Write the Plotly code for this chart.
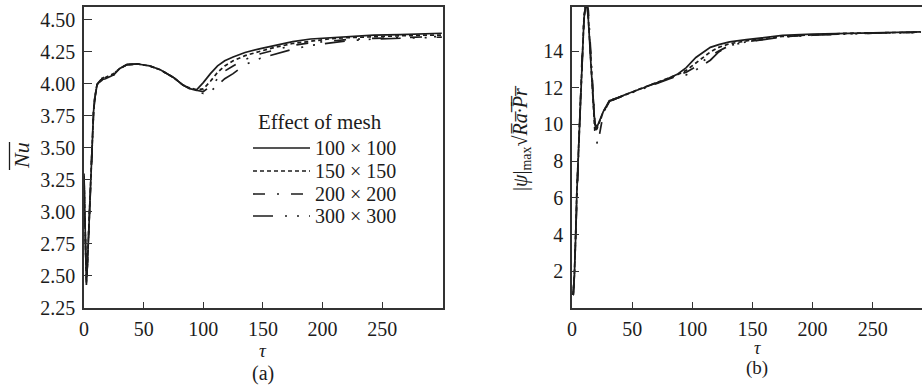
import plotly.graph_objects as go

W, H = 922, 386
FONT = "Liberation Serif"
INK = "#1c1c1c"
AXC = "#333333"

# ---------------- data ----------------
mesh_labels = ["100 × 100", "150 × 150", "200 × 200", "300 × 300"]

# panel (a): mean Nusselt number vs tau
tau_a = [0, 1, 2, 3, 4, 5, 6, 7, 8, 9, 11, 14, 18, 25, 30, 36, 45, 55, 64, 75, 83,
         88, 94, 100, 106, 112, 118, 125, 135, 148, 160, 175, 190, 205, 220, 243, 265, 285, 300]
nu_100 = [3.30, 2.85, 2.43, 2.62, 2.86, 3.12, 3.38, 3.60, 3.78, 3.88, 4.00, 4.03, 4.04, 4.07, 4.12, 4.15,
          4.155, 4.14, 4.11, 4.05, 3.99, 3.965, 3.95, 4.01, 4.08, 4.14, 4.18, 4.21, 4.245, 4.275, 4.30,
          4.33, 4.35, 4.36, 4.37, 4.38, 4.385, 4.39, 4.395]
nu_150 = [3.28, 2.86, 2.45, 2.63, 2.87, 3.13, 3.39, 3.61, 3.79, 3.89, 4.00, 4.02, 4.05, 4.08, 4.12, 4.15,
          4.155, 4.14, 4.11, 4.05, 3.99, 3.97, 3.955, 3.96, 4.02, 4.09, 4.14, 4.18, 4.22, 4.255, 4.285,
          4.315, 4.335, 4.35, 4.36, 4.37, 4.375, 4.38, 4.38]
nu_200 = [3.27, 2.84, 2.44, 2.61, 2.85, 3.11, 3.37, 3.59, 3.77, 3.87, 3.99, 4.03, 4.06, 4.08, 4.12, 4.15,
          4.155, 4.14, 4.11, 4.05, 3.99, 3.97, 3.95, 3.94, 3.98, 4.04, 4.10, 4.14, 4.19, 4.235, 4.265,
          4.30, 4.32, 4.335, 4.345, 4.355, 4.362, 4.368, 4.37]
nu_300 = [3.26, 2.85, 2.44, 2.62, 2.86, 3.12, 3.38, 3.60, 3.78, 3.88, 4.00, 4.04, 4.05, 4.07, 4.12, 4.15,
          4.155, 4.14, 4.11, 4.05, 3.99, 3.965, 3.94, 3.925, 3.94, 3.99, 4.04, 4.08, 4.15, 4.20, 4.23,
          4.27, 4.30, 4.32, 4.335, 4.35, 4.358, 4.363, 4.365]

# panel (b): max stream function vs tau
tau_b = [1, 2, 3, 4, 6, 8, 10, 12, 13.6, 16, 19, 21, 23, 26, 31, 38, 45, 55, 65, 78, 88,
         95, 103, 109, 115, 122, 131, 145, 160, 175, 200, 225, 250, 270, 290]
psi_100 = [0.7, 1.8, 3.8, 6.2, 9.5, 13.2, 15.8, 16.8, 15.7, 13.0, 10.0, 9.9, 10.2, 10.7, 11.3, 11.45,
           11.65, 11.9, 12.15, 12.45, 12.75, 13.1, 13.65, 13.95, 14.2, 14.35, 14.5, 14.62, 14.75, 14.85,
           14.92, 14.97, 15.0, 15.02, 15.05]
psi_150 = [0.7, 1.9, 3.9, 6.3, 9.6, 13.3, 15.9, 16.9, 15.8, 13.1, 9.6, 9.8, 10.2, 10.7, 11.25, 11.45,
           11.65, 11.9, 12.15, 12.45, 12.72, 12.95, 13.35, 13.7, 13.95, 14.2, 14.4, 14.55, 14.7, 14.8,
           14.9, 14.96, 14.99, 15.01, 15.03]
psi_200 = [0.7, 1.8, 3.8, 6.1, 9.4, 13.1, 15.7, 16.9, 16.2, 13.5, 10.2, 8.9, 9.5, 10.6, 11.3, 11.45,
           11.65, 11.9, 12.15, 12.42, 12.7, 12.85, 13.15, 13.45, 13.75, 14.0, 14.3, 14.5, 14.66, 14.78,
           14.88, 14.94, 14.98, 15.0, 15.02]
psi_300 = [0.7, 1.8, 3.8, 6.2, 9.5, 13.2, 15.8, 16.8, 15.9, 13.2, 9.9, 9.8, 10.2, 10.6, 11.25, 11.45,
           11.6, 11.85, 12.1, 12.4, 12.65, 12.7, 12.97, 13.25, 13.5, 13.95, 14.3, 14.5, 14.65, 14.76,
           14.86, 14.93, 14.97, 14.99, 15.01]

xticks_a = [0, 50, 100, 150, 200, 250]
yticks_a = [2.25, 2.50, 2.75, 3.00, 3.25, 3.50, 3.75, 4.00, 4.25, 4.50]
xticks_b = [0, 50, 100, 150, 200, 250]
yticks_b = [2, 4, 6, 8, 10, 12, 14]

# ---------------- styling ----------------
dash_styles = ["solid", "4px,3px", "12px,12px,2px,12px", "20px,12px,2px,10px,2px,10px"]


def px(x):
    return x / W


def py(y):
    return 1 - y / H


fig = go.Figure()
for lab, ys, dsh in zip(mesh_labels, [nu_100, nu_150, nu_200, nu_300], dash_styles):
    fig.add_trace(go.Scatter(x=tau_a, y=ys, mode="lines", name=lab, showlegend=False,
                             line=dict(color=INK, width=1.7, dash=dsh), xaxis="x", yaxis="y"))
for lab, ys, dsh in zip(mesh_labels, [psi_100, psi_150, psi_200, psi_300], dash_styles):
    fig.add_trace(go.Scatter(x=tau_b, y=ys, mode="lines", name=lab, showlegend=False,
                             line=dict(color=INK, width=1.7, dash=dsh), xaxis="x2", yaxis="y2"))

tickfont = dict(family=FONT, size=20, color=INK)
common = dict(showline=True, mirror=True, linecolor=AXC, linewidth=1.5, ticks="inside",
              tickcolor=AXC, tickwidth=1.3, showgrid=False, zeroline=False, tickfont=tickfont,
              automargin=False)
ydom = [py(308), py(7)]

fig.update_layout(
    template="none",
    width=W, height=H, autosize=False,
    margin=dict(l=0, r=0, t=0, b=0, pad=0),
    paper_bgcolor="white", plot_bgcolor="white",
    xaxis=dict(domain=[px(84), px(443)], range=[0, 301], tickvals=xticks_a, ticklen=6,
               anchor="y", ticklabelstandoff=2, **common),
    yaxis=dict(domain=ydom, range=[2.25, 4.60], tickvals=yticks_a, tickformat=".2f", ticklen=8,
               anchor="x", ticklabelstandoff=3, **common),
    xaxis2=dict(domain=[px(572), 1.0], range=[0, 291], tickvals=xticks_b, ticklen=6,
                anchor="y2", ticklabelstandoff=2, **common),
    yaxis2=dict(domain=ydom, range=[0, 16.4], tickvals=yticks_b, ticklen=7,
                anchor="x2", ticklabelstandoff=3, **common),
    showlegend=False,
)

# ---------------- manual legend in panel (a) ----------------
leg_rows = [148, 171, 194, 216]
shapes = []
for yy, dsh in zip(leg_rows, dash_styles):
    shapes.append(dict(type="line", xref="paper", yref="paper", x0=px(253), x1=px(310),
                       y0=py(yy), y1=py(yy), line=dict(color=INK, width=1.6, dash=dsh)))
# overline of the N-u axis title (rotated text -> vertical bar on its left)
shapes.append(dict(type="line", xref="paper", yref="paper", x0=px(9.5), x1=px(9.5),
                   y0=py(170), y1=py(142), line=dict(color=INK, width=1.3)))
fig.update_layout(shapes=shapes)

ann = []
ann.append(dict(text="Effect of mesh", x=px(256), y=py(122), xref="paper", yref="paper",
                xanchor="left", yanchor="middle", showarrow=False,
                font=dict(family=FONT, size=21, color=INK)))
for yy, lab in zip(leg_rows, mesh_labels):
    ann.append(dict(text=lab, x=px(313), y=py(yy), xref="paper", yref="paper",
                    xanchor="left", yanchor="middle", showarrow=False,
                    font=dict(family=FONT, size=20, color=INK)))

# axis titles and captions
ann.append(dict(text="<i>Nu</i>", x=px(21), y=py(156), xref="paper", yref="paper",
                textangle=-90, showarrow=False, xanchor="center", yanchor="middle",
                font=dict(family=FONT, size=22, color=INK)))
ann.append(dict(text="|<i>ψ</i>|<sub>max</sub>√<i>R\u0305a\u0305·\u0305P\u0305r\u0305</i>",
                x=px(522), y=py(138), xref="paper", yref="paper",
                textangle=-90, showarrow=False, xanchor="center", yanchor="middle",
                font=dict(family=FONT, size=20, color=INK)))
ann.append(dict(text="<i>τ</i>", x=px(263), y=py(338), xref="paper", yref="paper",
                showarrow=False, xanchor="center", yanchor="top",
                font=dict(family=FONT, size=19, color=INK)))
ann.append(dict(text="(a)", x=px(263), y=py(373), xref="paper", yref="paper",
                showarrow=False, xanchor="center", yanchor="middle",
                font=dict(family=FONT, size=20, color=INK)))
ann.append(dict(text="<i>τ</i>", x=px(757), y=py(336), xref="paper", yref="paper",
                showarrow=False, xanchor="center", yanchor="top",
                font=dict(family=FONT, size=18, color=INK)))
ann.append(dict(text="(b)", x=px(757), y=py(368), xref="paper", yref="paper",
                showarrow=False, xanchor="center", yanchor="middle",
                font=dict(family=FONT, size=19, color=INK)))
fig.update_layout(annotations=ann)

fig.write_html("out.html", config={"displayModeBar": False},
               post_script="document.documentElement.style.margin='0';"
                           "document.body.style.margin='0';document.body.style.overflow='hidden';")
